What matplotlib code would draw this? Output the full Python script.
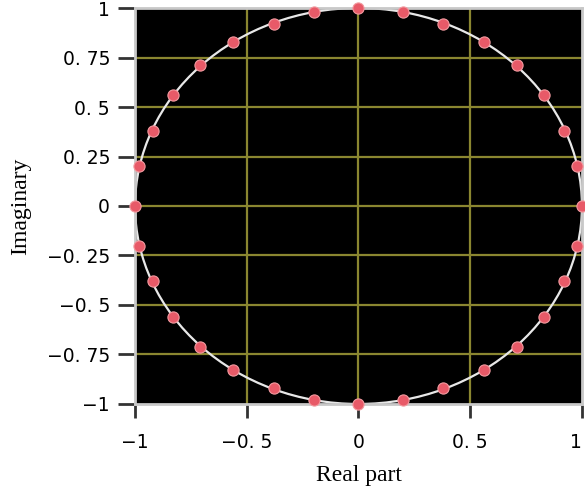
import matplotlib.pyplot as plt
from matplotlib.patches import Circle

# points (counter-clockwise from +1)
re_vals = [1.0, 0.98, 0.92, 0.83, 0.71, 0.56, 0.38, 0.2,
           0.0, -0.2, -0.38, -0.56, -0.71, -0.83, -0.92, -0.98,
           -1.0, -0.98, -0.92, -0.83, -0.71, -0.56, -0.38, -0.2,
           0.0, 0.2, 0.38, 0.56, 0.71, 0.83, 0.92, 0.98]
im_vals = [0.0, 0.2, 0.38, 0.56, 0.71, 0.83, 0.92, 0.98,
           1.0, 0.98, 0.92, 0.83, 0.71, 0.56, 0.38, 0.2,
           0.0, -0.2, -0.38, -0.56, -0.71, -0.83, -0.92, -0.98,
           -1.0, -0.98, -0.92, -0.83, -0.71, -0.56, -0.38, -0.2]

x_ticks = [-1, -0.5, 0, 0.5, 1]
x_labels = ["\u22121", "\u22120. 5", "0", "0. 5", "1"]
y_ticks = [-1, -0.75, -0.5, -0.25, 0, 0.25, 0.5, 0.75, 1]
y_labels = ["\u22121", "\u22120. 75", "\u22120. 5", "\u22120. 25", "0",
            "0. 25", "0. 5", "0. 75", "1"]

fig = plt.figure(figsize=(5.85, 4.91), dpi=100)
ax = fig.add_axes([0.2308, 0.1772, 0.764, 0.8065])
ax.set_facecolor("black")

grid_col = "#8a8630"
for v in [-0.5, 0, 0.5]:
    ax.axvline(v, color=grid_col, lw=1.6, zorder=1)
for v in y_ticks[1:-1]:
    ax.axhline(v, color=grid_col, lw=1.6, zorder=1)

ax.add_patch(Circle((0, 0), 1, fill=False, ec="#e8e8e8", lw=1.6, zorder=2))
ax.scatter(re_vals, im_vals, s=65, color="#e85a68", edgecolors="#f29aa0",
           linewidths=0.8, zorder=3, clip_on=False)

ax.set_xlim(-1, 1)
ax.set_ylim(-1, 1)
for s in ax.spines.values():
    s.set_color("#c8c8c8")
    s.set_linewidth(2)

ax.set_xticks(x_ticks)
ax.set_xticklabels(x_labels, family="DejaVu Sans", fontsize=13.5)
ax.set_yticks(y_ticks)
ax.set_yticklabels(y_labels, family="DejaVu Sans", fontsize=13.5)
ax.xaxis.get_ticklabels()[-1].set_horizontalalignment("right")
ax.tick_params(axis="x", length=10, width=2, color="#333333", pad=11)
ax.tick_params(axis="y", length=12, width=2, color="#333333", pad=6)

ax.set_xlabel("Real part", family="Liberation Serif", fontsize=17, labelpad=9)
ax.set_ylabel("Imaginary", family="Liberation Serif", fontsize=17, labelpad=11)

fig.savefig("out.png", dpi=100)
